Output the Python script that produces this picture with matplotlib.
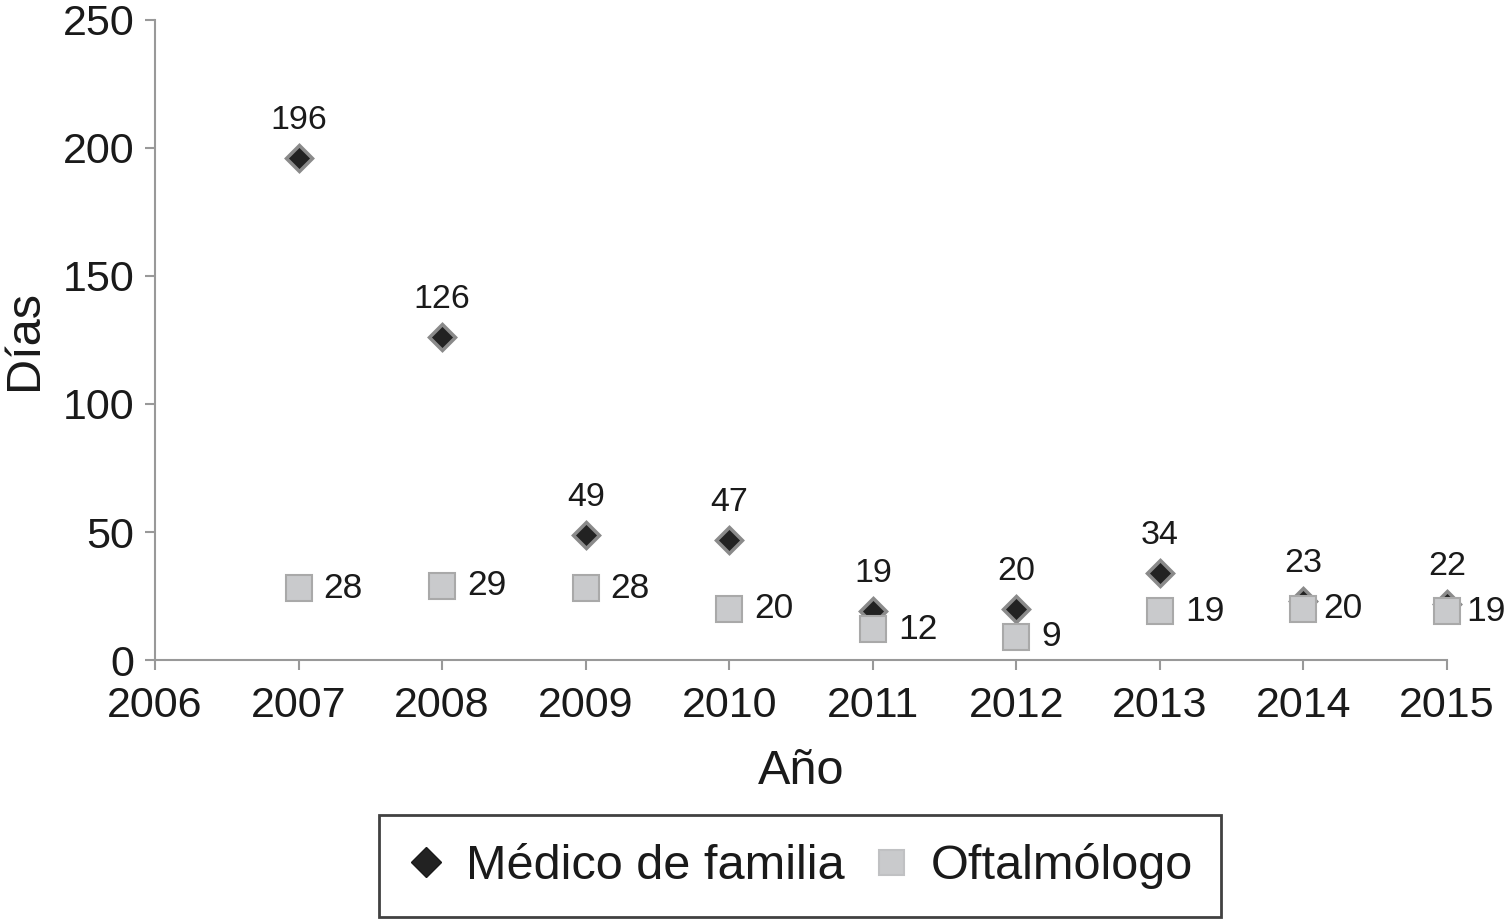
import matplotlib
matplotlib.use("Agg")
import matplotlib.pyplot as plt

plt.rcParams['font.family'] = ['Liberation Sans', 'DejaVu Sans']

years = [2007, 2008, 2009, 2010, 2011, 2012, 2013, 2014, 2015]
medico = [196, 126, 49, 47, 19, 20, 34, 23, 22]
oftalmo = [28, 29, 28, 20, 12, 9, 19, 20, 19]
xticks = [2006, 2007, 2008, 2009, 2010, 2011, 2012, 2013, 2014, 2015]
yticks = [0, 50, 100, 150, 200, 250]

fig = plt.figure(figsize=(15.05, 9.24), dpi=100)
ax = fig.add_axes([0.103, 0.2857, 0.8585, 0.6927])

ax.plot(years, medico, linestyle='none', marker='D', markersize=13,
        markerfacecolor='#222222', markeredgecolor='#8a8a8a', markeredgewidth=2.5,
        label='Médico de familia', zorder=3, clip_on=False)
ax.plot(years, oftalmo, linestyle='none', marker='s', markersize=19,
        markerfacecolor='#c9cacc', markeredgecolor='#a9a9a9', markeredgewidth=1.5,
        label='Oftalmólogo', zorder=4, clip_on=False)

for x, v in zip(years, medico):
    ax.annotate(str(v), (x, v), xytext=(0, 27), textcoords='offset points',
                ha='center', va='center', fontsize=24.5, color='#1a1a1a')
for x, v in zip(years, oftalmo):
    dx = 14 if x >= 2014 else 18
    ax.annotate(str(v), (x, v), xytext=(dx, 0), textcoords='offset points',
                ha='left', va='center', fontsize=25.5, color='#1a1a1a',
                annotation_clip=False)

ax.set_xlim(2006, 2015)
ax.set_ylim(0, 250)
ax.set_xticks(xticks)
ax.set_yticks(yticks)
ax.set_xticklabels([str(t) for t in xticks])
ax.tick_params(axis='both', labelsize=31, colors='#999999', labelcolor='#1a1a1a',
               width=1.5, length=7, direction='out')
ax.tick_params(axis='x', pad=12)
ax.tick_params(axis='y', pad=8)

for s in ['top', 'right']:
    ax.spines[s].set_visible(False)
for s in ['left', 'bottom']:
    ax.spines[s].set_color('#999999')
    ax.spines[s].set_linewidth(1.5)

ax.set_xlabel('Año', fontsize=35, color='#1a1a1a', labelpad=16)
ax.set_ylabel('Días', fontsize=35, color='#1a1a1a', labelpad=11)

leg = fig.legend(loc='center', bbox_to_anchor=(0.5316, 0.0628), ncol=2,
                 fontsize=35, frameon=True, fancybox=False, edgecolor='#111111',
                 handletextpad=0.42, columnspacing=0.55, borderpad=0.57,
                 markerscale=1.0, handlelength=0.8)
leg.get_frame().set_linewidth(2)
h_med, h_oft = leg.legend_handles
h_med.set_markeredgecolor('#1a1a1a')
h_med.set_markeredgewidth(1.0)
h_med.set_markersize(15)
h_oft.set_markeredgecolor('#c0c1c3')
h_oft.set_markersize(18)
for t in leg.get_texts():
    t.set_color('#1a1a1a')

fig.savefig('out.png', dpi=100)
